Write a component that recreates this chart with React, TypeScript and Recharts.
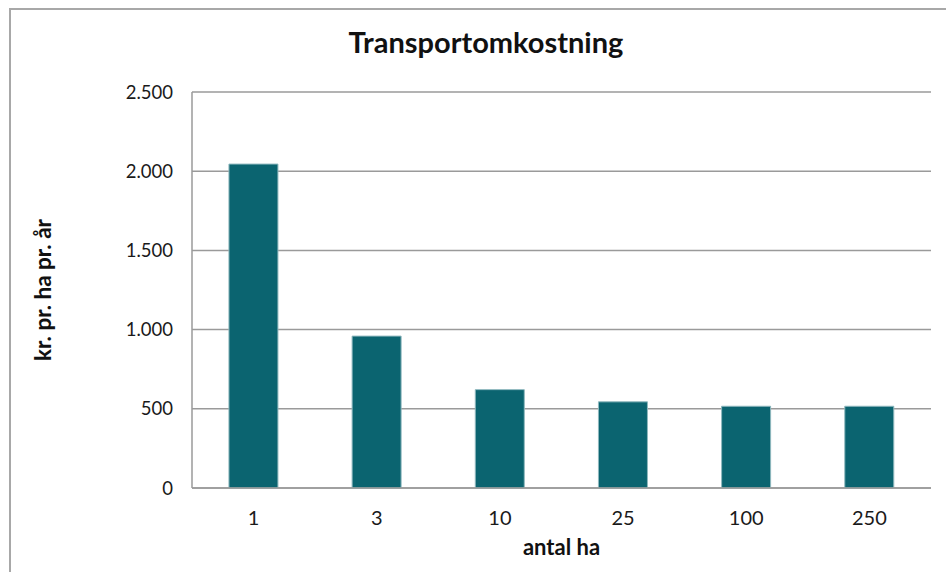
import { BarChart, Bar, XAxis, YAxis, CartesianGrid } from 'recharts';

const categories = ['1', '3', '10', '25', '100', '250'];
const costs = [2045, 959, 621, 544, 516, 516];
const yTicks = [0, 500, 1000, 1500, 2000, 2500];

const data = categories.map((c, i) => ({ ha: c, cost: costs[i] }));

const font = 'Lato, "Open Sans", sans-serif';

function fmt(v: number) {
  return v.toLocaleString('da-DK');
}

export default function App() {
  return (
    <div style={{ position: 'fixed', left: 0, top: 0, width: 946, height: 572, background: '#fff', fontFamily: font }}>
      <div
        style={{
          position: 'absolute',
          left: 9,
          top: 8,
          width: 960,
          height: 600,
          border: '2px solid #a8a8a8',
        }}
      />
      <div
        style={{
          position: 'absolute',
          left: 486,
          top: 24,
          transform: 'translateX(-50%)',
          fontSize: 29,
          fontWeight: 700,
          color: '#111',
          whiteSpace: 'nowrap',
        }}
      >
        Transportomkostning
      </div>
      <BarChart
        width={946}
        height={572}
        data={data}
        margin={{ top: 92, right: 15, bottom: 0, left: 0 }}
        barCategoryGap="30%"
        style={{ position: 'absolute', left: 0, top: 0 }}
      >
        <CartesianGrid vertical={false} stroke="#9a9a9a" strokeWidth={1.5} />
        <XAxis
          dataKey="ha"
          height={84}
          tickLine={false}
          tickSize={0}
          tickMargin={23}
          stroke="#9a9a9a"
          strokeWidth={1.5}
          tick={{ fill: '#1a1a1a', fontSize: 20, fontFamily: font }}
          label={{
            value: 'antal ha',
            position: 'insideBottom',
            offset: 17,
            style: { fill: '#111', fontSize: 22, fontWeight: 700, fontFamily: font },
          }}
        />
        <YAxis
          width={192}
          domain={[0, 2500]}
          ticks={yTicks}
          tickFormatter={fmt}
          tickLine={false}
          tickSize={0}
          tickMargin={19}
          stroke="#9a9a9a"
          strokeWidth={1.5}
          tick={{ fill: '#1a1a1a', fontSize: 18.5, fontFamily: font }}
          label={{
            value: 'kr. pr. ha pr. år',
            angle: -90,
            position: 'insideLeft',
            offset: 43,
            style: { textAnchor: 'middle', fill: '#111', fontSize: 22.5, fontWeight: 700, fontFamily: font },
          }}
        />
        <Bar dataKey="cost" fill="#0b6470" stroke="#8fb8be" strokeWidth={1} isAnimationActive={false} />
      </BarChart>
    </div>
  );
}
